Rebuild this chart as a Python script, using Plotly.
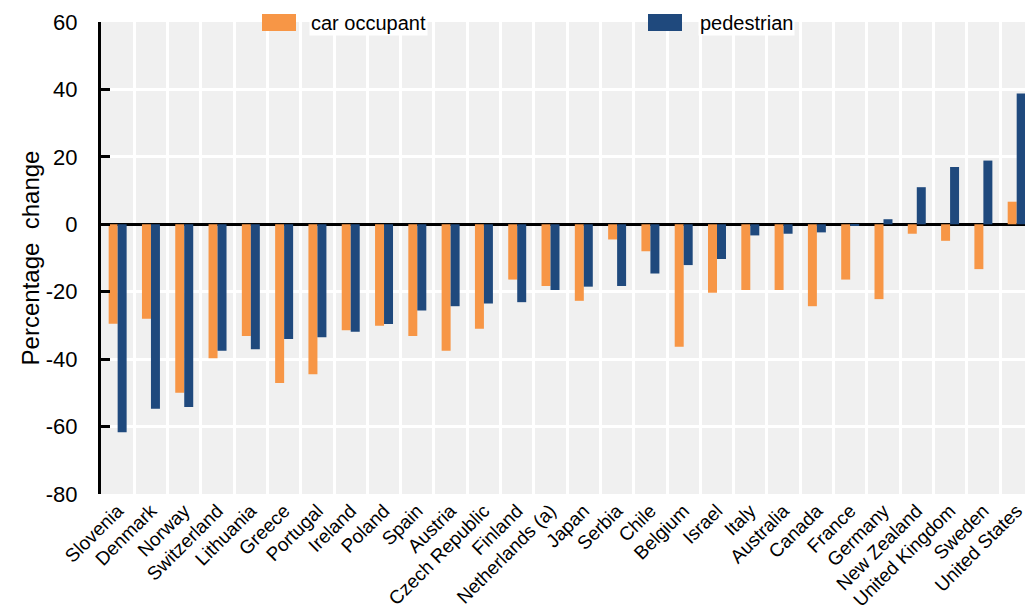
import plotly.graph_objects as go

# Change in road fatalities by road user type, per country
countries = [
    "Slovenia", "Denmark", "Norway", "Switzerland", "Lithuania", "Greece",
    "Portugal", "Ireland", "Poland", "Spain", "Austria", "Czech Republic",
    "Finland", "Netherlands (a)", "Japan", "Serbia", "Chile", "Belgium",
    "Israel", "Italy", "Australia", "Canada", "France", "Germany",
    "New Zealand", "United Kingdom", "Sweden", "United States",
]
car_occupant = [
    -29.5, -28.0, -50.0, -39.7, -33.1, -47.1,
    -44.5, -31.4, -30.1, -33.1, -37.5, -31.0,
    -16.4, -18.3, -22.7, -4.5, -8.0, -36.3,
    -20.3, -19.5, -19.5, -24.3, -16.4, -22.2,
    -2.8, -4.9, -13.3, 6.7,
]
pedestrian = [
    -61.7, -54.7, -54.2, -37.5, -37.1, -34.0,
    -33.5, -31.9, -29.6, -25.6, -24.3, -23.5,
    -23.1, -19.5, -18.5, -18.3, -14.6, -12.1,
    -10.3, -3.3, -2.8, -2.4, -0.3, 1.5,
    11.0, 17.0, 18.9, 38.8,
]
y_ticks = [-80, -60, -40, -20, 0, 20, 40, 60]
y_tick_labels = ["-80", "-60", "-40", "-20", "0", "20", "40", "60"]

ORANGE = "#f79646"
BLUE = "#1f497d"
FONT = "Liberation Sans, Arial, sans-serif"

W, H = 1025, 612
ML, MR, MT, MB = 101, 0, 22, 118
PW, PH = W - ML - MR, H - MT - MB
x_range = [-0.5, 27.25]
y_range = [-80, 60]


def px_x(p):
    return (p - ML) / PW


def px_y(p):
    return (H - MB - p) / PH


fig = go.Figure()
fig.add_trace(go.Bar(x=countries, y=car_occupant, name="car occupant",
                     marker=dict(color=ORANGE, line=dict(width=0))))
fig.add_trace(go.Bar(x=countries, y=pedestrian, name="pedestrian",
                     marker=dict(color=BLUE, line=dict(width=0))))

zero_pos = (0 - y_range[0]) / (y_range[1] - y_range[0])

fig.update_layout(
    width=W, height=H, autosize=False,
    margin=dict(l=ML, r=MR, t=MT, b=MB, pad=0),
    paper_bgcolor="white", plot_bgcolor="#f0f0f0",
    font=dict(family=FONT, size=20, color="black"),
    barmode="group", bargap=0.46, bargroupgap=0,
    showlegend=False,
    xaxis=dict(
        type="category", categoryorder="array", categoryarray=countries,
        range=x_range, tickson="boundaries", automargin=False,
        showgrid=True, gridcolor="white", gridwidth=3,
        ticks="", tickangle=-45, showline=False, zeroline=False,
        ticklabelstandoff=1,
        tickfont=dict(family=FONT, size=19, color="black"),
    ),
    xaxis2=dict(
        type="category", categoryorder="array", categoryarray=countries,
        matches="x", overlaying="x", anchor="free", position=zero_pos,
        range=x_range, tickson="boundaries",
        ticks="inside", ticklen=6, tickwidth=2.5, tickcolor="black",
        showticklabels=False, showgrid=False, showline=False, zeroline=False,
    ),
    yaxis=dict(
        range=y_range, tickvals=y_ticks, ticktext=y_tick_labels,
        automargin=False,
        showgrid=True, gridcolor="white", gridwidth=3,
        zeroline=True, zerolinecolor="black", zerolinewidth=3,
        showline=True, linecolor="black", linewidth=3,
        ticks="inside", ticklen=9, tickwidth=2.5, tickcolor="black",
        ticklabelstandoff=16,
        tickfont=dict(family=FONT, size=22, color="black"),
        title=dict(text="Percentage  change", standoff=0,
                   font=dict(family=FONT, size=24, color="black")),
    ),
)

# Legend: swatches and labels across the top of the plot
legend_items = [("car occupant", ORANGE, 262, 296, 309),
                ("pedestrian", BLUE, 648, 682, 698)]
for label, color, sx0, sx1, tx in legend_items:
    fig.add_shape(type="rect", xref="paper", yref="paper",
                  x0=px_x(sx0), x1=px_x(sx1), y0=px_y(31), y1=px_y(14),
                  fillcolor=color, line=dict(width=0), layer="above")
    fig.add_annotation(text=label, xref="paper", yref="paper",
                       x=px_x(tx), y=px_y(23), xanchor="left", yanchor="middle",
                       showarrow=False, bgcolor="white", borderpad=1,
                       font=dict(family=FONT, size=20, color="black"))

fig.write_html("out.html")
